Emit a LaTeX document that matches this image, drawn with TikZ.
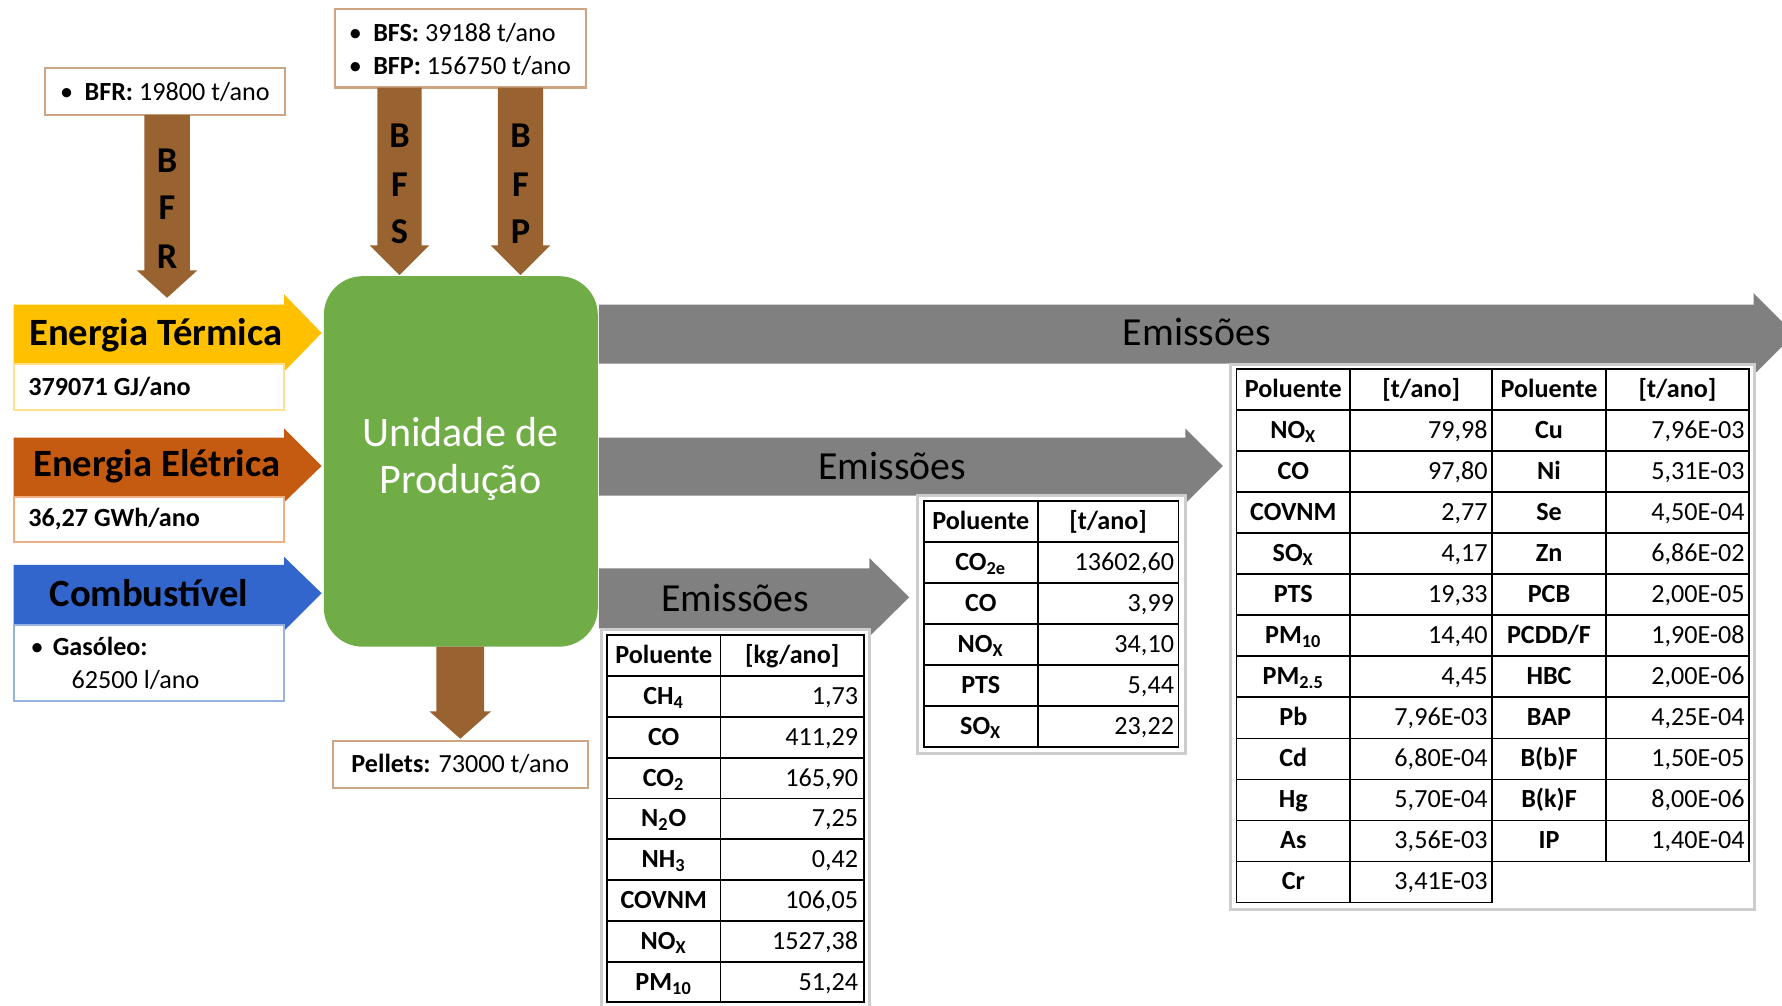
\documentclass[tikz,border=0pt]{standalone}
\usepackage{fontspec}
\setmainfont{Carlito}

\definecolor{woodbrown}{RGB}{153,98,49}
\definecolor{tanline}{RGB}{205,165,130}
\definecolor{heatyellow}{RGB}{255,192,0}
\definecolor{heatline}{RGB}{255,225,140}
\definecolor{powerorange}{RGB}{197,90,17}
\definecolor{powerline}{RGB}{240,175,130}
\definecolor{fuelblue}{RGB}{51,102,204}
\definecolor{fuelline}{RGB}{150,178,226}
\definecolor{plantgreen}{RGB}{112,173,71}
\definecolor{emitgrey}{RGB}{128,128,128}
\definecolor{framegrey}{RGB}{205,205,205}

\newcommand\fs[1]{\fontsize{#1}{#1}\selectfont}

% right-pointing block arrow: x0, head base x, tip x, shaft top, shaft bottom, head top, head bottom, tip y
\newcommand\rtblock[9]{%
  \fill[#1] (#2,#5) -- (#3,#5) -- (#3,#7) -- (#4,#9) -- (#3,#8) -- (#3,#6) -- (#2,#6) -- cycle;}
% down-pointing block arrow: centre x, shaft top, head base y, tip y, half shaft, half head
\newcommand\dnblock[6]{%
  \fill[woodbrown] ({#1-#5},#2) -- ({#1+#5},#2) -- ({#1+#5},#3) -- ({#1+#6},#3) -- (#1,#4)
    -- ({#1-#6},#3) -- ({#1-#5},#3) -- cycle;}

\tikzset{
  every node/.style={inner sep=0pt, outer sep=0pt},
  infobox/.style={draw=tanline, line width=0.9pt, fill=white, anchor=north west},
  infotext/.style={anchor=base west, font=\fs{11.5}},
  flowletter/.style={anchor=base, font=\fs{16}\bfseries},
  inlabel/.style={anchor=base, font=\fs{17}\bfseries},
  emitlabel/.style={anchor=base, font=\fs{17.5}},
  gridline/.style={line width=0.8pt, draw=black},
  tabframe/.style={draw=framegrey, line width=1.2pt, fill=white, anchor=north west},
  cellname/.style={anchor=base, font=\fs{11.5}\bfseries},
  cellvalue/.style={anchor=base east, font=\fs{11.5}},
}

\begin{document}
\begin{tikzpicture}[x=0.5pt,y=-0.5pt]
\clip (0,0) rectangle (1568,885);
\fill[white] (0,0) rectangle (1568,885);

% emission outputs
\rtblock{emitgrey}{527}{1543}{1579}{268}{320}{258}{330}{294}
\rtblock{emitgrey}{527}{1043}{1076}{385}{436}{377}{443}{410}
\rtblock{emitgrey}{527}{765}{800}{500}{553}{491}{560}{525.5}
\node[emitlabel] (emittop) at (1053,304) {Emissões};
\node[emitlabel] (emitmid) at (785,422) {Emissões};
\node[emitlabel] (emitlow) at (647,538) {Emissões};

% production unit
\node[fill=plantgreen, rounded corners=17pt, minimum width=120.5pt, minimum height=163pt,
      anchor=north west] (plant) at (285,243) {};
\node[anchor=base, font=\fs{18.5}, text=white] (plantA) at (405,393) {Unidade de};
\node[anchor=base, font=\fs{18.5}, text=white] (plantB) at (405,434) {Produção};

% energy and fuel inputs
\rtblock{heatyellow}{12}{250}{283}{268}{320}{259}{327}{293}
\rtblock{powerorange}{12}{250}{283}{385}{437}{377}{442}{410}
\rtblock{fuelblue}{12}{250}{283}{497}{550}{490}{555}{522}
\node[inlabel] (heatlabel) at (137,304) {Energia Térmica};
\node[inlabel] (powerlabel) at (138,419) {Energia Elétrica};
\node[inlabel] (fuellabel) at (131,534) {Combustível};

\node[infobox, draw=heatline, minimum width=119pt, minimum height=20.5pt] (heatbox) at (12,320) {};
\node[infobox, draw=powerline, minimum width=119pt, minimum height=20pt] (powerbox) at (12,437) {};
\node[infobox, draw=fuelline, minimum width=119pt, minimum height=33.5pt] (fuelbox) at (12,550) {};
\node[infotext, font=\fs{11.5}\bfseries] (heatval) at (25,348) {379071 GJ/ano};
\node[infotext, font=\fs{11.5}\bfseries] (powerval) at (25,463) {36,27 GWh/ano};
\node[infotext] (fuelname) at (27,577) {\textbullet\hspace{4pt}\textbf{Gasóleo:}};
\node[infotext] (fuelval) at (63,606) {62500 l/ano};

% biomass inputs and pellet output
\node[infobox, minimum width=105.5pt, minimum height=20.5pt] (bfrbox) at (40,60) {};
\node[infotext] (bfrtext) at (53,88) {\textbullet\hspace{5pt}\textbf{BFR:} 19800 t/ano};
\node[infobox, minimum width=110.5pt, minimum height=34.5pt] (bfsbox) at (295,8) {};
\node[infotext] (bfstext) at (307,36.5) {\textbullet\hspace{5pt}\textbf{BFS:} 39188 t/ano};
\node[infotext] (bfptext) at (307,65.5) {\textbullet\hspace{5pt}\textbf{BFP:} 156750 t/ano};

\dnblock{147}{101}{238}{262}{20}{26.5}
\dnblock{351.5}{77}{216}{242}{19.5}{26}
\dnblock{458}{77}{216}{242}{20}{26}
\dnblock{405}{569}{626}{650}{21}{27}

\node[flowletter] (bfrB) at (147,152) {B};
\node[flowletter] (bfrF) at (147,193) {F};
\node[flowletter] (bfrR) at (147,236) {R};
\node[flowletter] (bfsB) at (351.5,130) {B};
\node[flowletter] (bfsF) at (351.5,173) {F};
\node[flowletter] (bfsS) at (351.5,214) {S};
\node[flowletter] (bfpB) at (458,130) {B};
\node[flowletter] (bfpF) at (458,173) {F};
\node[flowletter] (bfpP) at (458,214) {P};

\node[infobox, minimum width=112pt, minimum height=20.5pt] (pelletbox) at (293,652) {};
\node[anchor=base, font=\fs{11.5}] (pellettext) at (405,680) {\textbf{Pellets:} 73000 t/ano};

% table: fuel combustion emissions [kg/ano]
\node[tabframe, minimum width=118pt, minimum height=168pt] (tabAframe) at (529,554) {};
\draw[gridline] (534,559) rectangle (760,882);
\foreach \k in {1,...,8} \draw[gridline] (534,{559+\k*35.9}) -- (760,{559+\k*35.9});
\draw[gridline] (634,559) -- (634,882);
\node[cellname] (tabAh1) at (584,584) {Poluente};
\node[cellname] (tabAh2) at (697,584) {[kg/ano]};
\foreach \nm/\vl [count=\r] in {{CH\textsubscript{4}}/{1,73}, {CO}/{411,29},
    {CO\textsubscript{2}}/{165,90}, {N\textsubscript{2}O}/{7,25}, {NH\textsubscript{3}}/{0,42},
    {COVNM}/{106,05}, {NO\textsubscript{X}}/{1527,38}, {PM\textsubscript{10}}/{51,24}} {
  \node[cellname] (tabAn\r) at (584,{559+(\r+0.5)*35.9+7}) {\nm};
  \node[cellvalue] (tabAv\r) at (755,{559+(\r+0.5)*35.9+7}) {\vl};
}

% table: electricity emissions [t/ano]
\node[tabframe, minimum width=118pt, minimum height=113.5pt] (tabBframe) at (807,436) {};
\draw[gridline] (813,441) rectangle (1037,657);
\foreach \k in {1,...,5} \draw[gridline] (813,{441+\k*36}) -- (1037,{441+\k*36});
\draw[gridline] (913,441) -- (913,657);
\node[cellname] (tabBh1) at (863,466) {Poluente};
\node[cellname] (tabBh2) at (975,466) {[t/ano]};
\foreach \nm/\vl [count=\r] in {{CO\textsubscript{2e}}/{13602,60}, {CO}/{3,99},
    {NO\textsubscript{X}}/{34,10}, {PTS}/{5,44}, {SO\textsubscript{X}}/{23,22}} {
  \node[cellname] (tabBn\r) at (863,{441+(\r+0.5)*36+7}) {\nm};
  \node[cellvalue] (tabBv\r) at (1033,{441+(\r+0.5)*36+7}) {\vl};
}

% table: thermal energy emissions [t/ano]
\node[tabframe, minimum width=230.5pt, minimum height=239.5pt] (tabCframe) at (1083,321) {};
\draw[gridline] (1088,325) rectangle (1313,{325+13*36.08});
\draw[gridline] (1313,325) rectangle (1539,{325+12*36.08});
\foreach \k in {1,...,11} \draw[gridline] (1088,{325+\k*36.08}) -- (1539,{325+\k*36.08});
\draw[gridline] (1088,{325+12*36.08}) -- (1313,{325+12*36.08});
\draw[gridline] (1188,325) -- (1188,{325+13*36.08});
\draw[gridline] (1413,325) -- (1413,{325+12*36.08});
\node[cellname] (tabCh1) at (1138,350) {Poluente};
\node[cellname] (tabCh2) at (1250.5,350) {[t/ano]};
\node[cellname] (tabCh3) at (1363,350) {Poluente};
\node[cellname] (tabCh4) at (1476,350) {[t/ano]};
\foreach \nm/\vl [count=\r] in {{NO\textsubscript{X}}/{79,98}, {CO}/{97,80}, {COVNM}/{2,77},
    {SO\textsubscript{X}}/{4,17}, {PTS}/{19,33}, {PM\textsubscript{10}}/{14,40},
    {PM\textsubscript{2.5}}/{4,45}, {Pb}/{7,96E-03}, {Cd}/{6,80E-04}, {Hg}/{5,70E-04},
    {As}/{3,56E-03}, {Cr}/{3,41E-03}} {
  \node[cellname] (tabCn\r) at (1138,{325+(\r+0.5)*36.08+7}) {\nm};
  \node[cellvalue] (tabCv\r) at (1309,{325+(\r+0.5)*36.08+7}) {\vl};
}
\foreach \nm/\vl [count=\r] in {{Cu}/{7,96E-03}, {Ni}/{5,31E-03}, {Se}/{4,50E-04},
    {Zn}/{6,86E-02}, {PCB}/{2,00E-05}, {PCDD/F}/{1,90E-08}, {HBC}/{2,00E-06},
    {BAP}/{4,25E-04}, {B(b)F}/{1,50E-05}, {B(k)F}/{8,00E-06}, {IP}/{1,40E-04}} {
  \node[cellname] (tabDn\r) at (1363,{325+(\r+0.5)*36.08+7}) {\nm};
  \node[cellvalue] (tabDv\r) at (1535,{325+(\r+0.5)*36.08+7}) {\vl};
}
\end{tikzpicture}
\end{document}
